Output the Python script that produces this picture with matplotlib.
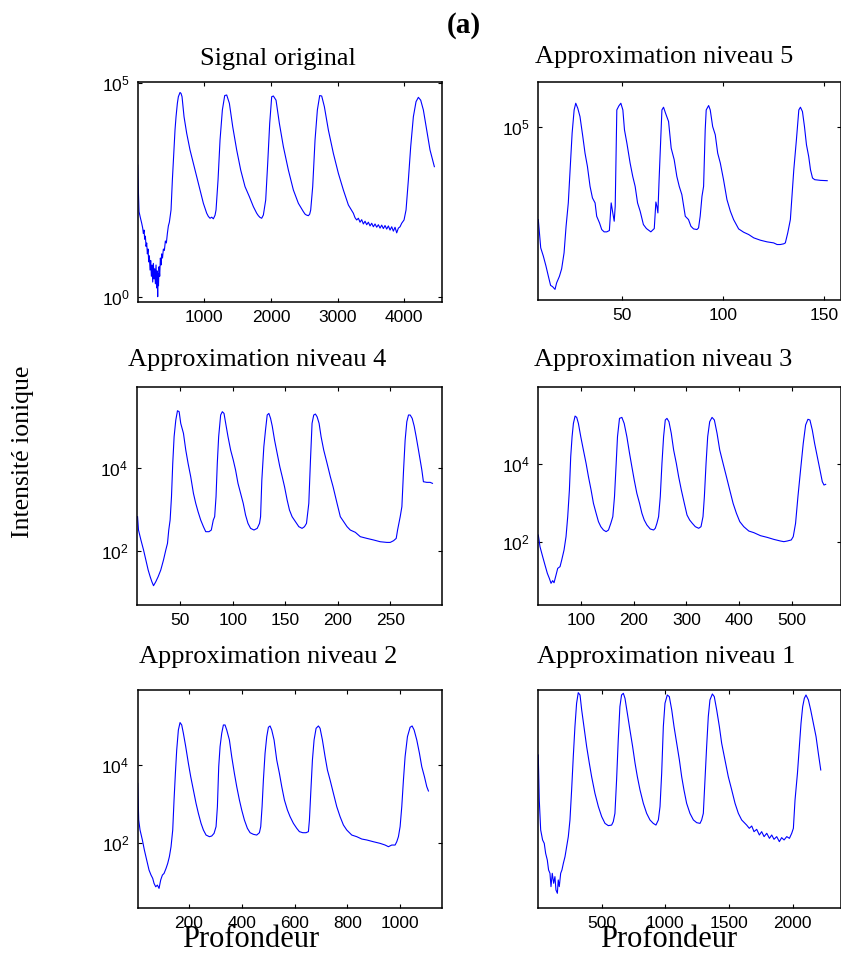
import matplotlib
matplotlib.use('Agg')
import matplotlib.pyplot as plt
from matplotlib.ticker import FixedLocator, NullLocator, FixedFormatter

plt.rcParams['font.family'] = ['Liberation Sans', 'DejaVu Sans']
plt.rcParams['mathtext.fontset'] = 'custom'
plt.rcParams['mathtext.rm'] = 'Liberation Sans'
plt.rcParams['mathtext.it'] = 'Liberation Sans:italic'
plt.rcParams['mathtext.bf'] = 'Liberation Sans:bold'

# ---------------- data: (depth, intensity) ----------------
signal_pts = [
    (0, 1190), (10, 300), (20, 97), (40, 70), (60, 52), (75, 40), (85, 30), (95, 36), (105, 22), (115, 26),
    (125, 15), (135, 18), (145, 10), (155, 13), (165, 6.5), (175, 9), (185, 4.2), (195, 7), (205, 3),
    (215, 5.5), (225, 2.2), (235, 6), (245, 2.6), (255, 4.5), (265, 2.0), (275, 5.5), (285, 1.6), (292, 4),
    (300, 1.0), (305, 3.5), (312, 1.8), (320, 5), (330, 3), (340, 8), (350, 5.5), (360, 10), (372, 8),
    (385, 13), (400, 12), (415, 20), (430, 18), (445, 30), (460, 45), (475, 55), (490, 80), (500, 106),
    (510, 250), (520, 532), (535, 1500), (545, 3200), (560, 8000), (575, 16000), (595, 33000), (610, 47000),
    (635, 59000), (650, 56000), (665, 47000), (695, 16000), (735, 6550), (785, 2670), (835, 1300),
    (885, 637), (935, 311), (985, 152), (1035, 89), (1060, 75), (1085, 68), (1110, 72), (1135, 66),
    (1160, 80), (1175, 106), (1205, 532), (1235, 4570), (1270, 23000), (1305, 50000), (1335, 51500),
    (1375, 33000), (1425, 9400), (1485, 2670), (1545, 910), (1610, 372), (1675, 217), (1735, 127),
    (1785, 89), (1810, 78), (1835, 71), (1860, 68), (1885, 81), (1920, 181), (1950, 1300), (1980, 11200),
    (2010, 47000), (2035, 48800), (2075, 39000), (2125, 11200), (2185, 3200), (2260, 910), (2335, 311),
    (2410, 152), (2485, 97), (2510, 85), (2530, 81), (2560, 78), (2580, 85), (2595, 106), (2625, 372),
    (2660, 4570), (2695, 23000), (2730, 50000), (2760, 48800), (2800, 27500), (2860, 7830), (2935, 2230),
    (3010, 762), (3085, 311), (3160, 139), (3235, 89), (3260, 70), (3285, 62), (3310, 68), (3335, 55),
    (3360, 63), (3385, 50), (3410, 58), (3435, 48), (3460, 55), (3485, 45), (3510, 52), (3535, 43),
    (3560, 50), (3585, 42), (3610, 48), (3635, 40), (3660, 47), (3685, 39), (3710, 46), (3735, 38),
    (3760, 45), (3785, 36), (3810, 43), (3835, 34), (3860, 42), (3885, 31), (3910, 40), (3935, 43),
    (3960, 52), (3995, 62), (4025, 106), (4060, 532), (4095, 3200), (4135, 16000), (4175, 36000),
    (4210, 45400), (4245, 39000), (4285, 23000), (4335, 7830), (4385, 2670), (4450, 1090)]

level5_pts = [
    (8.2, 785), (9.4, 180), (10.7, 117), (12.0, 70), (13.2, 41), (14.3, 25.5), (15.3, 23.8), (16.5, 20.7),
    (17.3, 29), (18.7, 41), (19.8, 60.5), (21.0, 139), (22.0, 555), (23.1, 1870), (24.0, 10500),
    (25.0, 70800), (26.0, 237000), (26.8, 336000), (27.8, 259000), (28.9, 168000), (30.3, 59500),
    (31.4, 25000), (32.6, 12500), (33.9, 4430), (35.1, 2420), (36.4, 1870), (37.2, 933), (38.6, 660),
    (39.7, 467), (40.9, 414), (42.2, 414), (43.5, 443), (44.4, 1870), (45.2, 1110), (45.9, 720),
    (46.4, 1570), (47.2, 237000), (48.2, 292000), (49.2, 336000), (50.2, 237000), (51.0, 84100),
    (52.2, 42100), (53.8, 14900), (55.1, 7450), (56.3, 4430), (57.5, 1870), (58.8, 1210), (60.4, 606),
    (61.9, 492), (64.1, 414), (65.8, 492), (66.6, 1960), (67.1, 1570), (67.6, 1110), (68.2, 6270),
    (69.6, 237000), (70.4, 273000), (71.4, 200000), (72.9, 130000), (74.2, 32400), (75.7, 17700),
    (77.0, 7450), (78.2, 4430), (79.5, 2880), (81.2, 933), (82.8, 785), (84.0, 555), (85.3, 483),
    (87.0, 467), (87.8, 509), (88.6, 933), (89.5, 2640), (90.3, 4430), (91.1, 84100), (91.6, 237000),
    (92.8, 298000), (93.6, 237000), (94.8, 100000), (96.1, 64900), (97.3, 25000), (98.6, 14900),
    (100.2, 6270), (101.9, 2220), (103.6, 1210), (105.2, 785), (107.7, 483), (110.2, 406), (112.7, 360),
    (115.2, 303), (118.5, 268), (121.8, 246), (125.1, 233), (126.8, 214), (128.4, 214), (130.1, 222),
    (130.9, 233), (132.1, 393), (133.4, 785), (135.1, 10500), (136.4, 50000), (137.6, 237000),
    (138.4, 273000), (139.4, 218000), (140.4, 100000), (141.4, 38500), (142.5, 21000), (143.4, 10500),
    (144.4, 6840), (145.5, 6270), (148.3, 6050), (151.7, 5950)]

level4_pts = [
    (9.5, 667), (10.4, 319), (12.7, 184), (15.2, 106), (17.4, 61), (19.6, 35), (21.5, 24.2), (23.1, 18.4),
    (24.7, 14.7), (26.9, 18.4), (29.1, 24.2), (31.6, 35), (34.2, 61), (36.4, 106), (38.0, 153), (39.2, 319),
    (40.5, 555), (41.8, 2010), (43.0, 12700), (44.3, 55500), (45.9, 139000), (47.5, 233000), (49.1, 221000),
    (50.6, 116000), (53.2, 66700), (55.4, 26500), (57.6, 12700), (60.1, 6080), (62.7, 2420), (64.9, 1390),
    (67.1, 879), (69.6, 555), (72.2, 384), (74.4, 291), (77.5, 291), (79.7, 319), (81.6, 555), (82.9, 667),
    (84.2, 2010), (85.4, 12700), (86.7, 55500), (88.6, 184000), (90.2, 221000), (91.8, 201000),
    (93.4, 116000), (95.6, 55500), (98.1, 26500), (100.6, 15300), (102.8, 8790), (105.1, 4210),
    (107.6, 2420), (110.1, 1390), (112.3, 731), (114.6, 461), (117.1, 350), (120.3, 319), (123.4, 350),
    (125.6, 461), (126.6, 667), (127.8, 5060), (129.7, 31900), (131.3, 80200), (132.9, 184000),
    (134.5, 201000), (136.1, 153000), (137.7, 100000), (139.9, 46100), (142.4, 22100), (144.9, 10600),
    (147.2, 6080), (149.4, 3500), (151.9, 1670), (154.1, 964), (156.6, 667), (159.8, 506), (163.0, 384),
    (166.1, 350), (168.4, 384), (170.3, 461), (172.5, 1390), (174.1, 15300), (175.6, 116000),
    (177.2, 184000), (178.8, 194000), (180.4, 167000), (182.3, 116000), (184.2, 55500), (186.7, 26500),
    (189.9, 12700), (193.0, 6080), (195.6, 3500), (199.4, 1390), (202.5, 667), (205.7, 506), (208.9, 384),
    (212.0, 319), (216.8, 281), (221.5, 221), (227.8, 201), (234.2, 184), (240.5, 167), (246.8, 161),
    (250.0, 161), (253.2, 177), (255.7, 201), (257.0, 319), (259.5, 667), (261.1, 1160), (262.7, 8790),
    (264.2, 46100), (265.8, 127000), (267.4, 184000), (269.0, 184000), (270.9, 153000), (272.8, 100000),
    (274.7, 55500), (276.9, 26500), (278.5, 15300), (280.1, 8790), (281.6, 4610), (284.8, 4450),
    (288.0, 4450), (290.2, 4210)]

level3_pts = [
    (18.7, 154), (21.9, 77.5), (27.0, 42.9), (31.4, 26.2), (35.9, 16.0), (39.7, 11.9), (42.9, 8.9),
    (46.0, 10.4), (48.6, 9.2), (52.4, 14.5), (55.6, 21.5), (60.0, 23.8), (63.2, 35.2), (67.6, 63.5),
    (71.4, 140), (74.6, 455), (77.8, 2200), (80.3, 15700), (82.9, 51200), (85.4, 112000), (88.6, 173000),
    (91.7, 160000), (94.9, 112000), (99.4, 51200), (104.4, 23300), (109.5, 10600), (114.0, 4830),
    (119.0, 2200), (123.5, 1000), (128.6, 555), (133.0, 339), (137.5, 252), (142.5, 207), (147.6, 188),
    (152.1, 207), (156.5, 307), (160.3, 455), (163.5, 1480), (166.7, 10600), (169.2, 51200),
    (173.0, 151000), (177.5, 160000), (181.9, 112000), (187.0, 51200), (192.1, 19100), (196.5, 8710),
    (201.0, 3960), (206.0, 1800), (211.1, 1000), (215.6, 555), (220.0, 374), (225.1, 278), (231.4, 220),
    (237.8, 207), (241.0, 229), (244.1, 307), (247.3, 455), (250.5, 1480), (253.7, 10600), (256.8, 51200),
    (260.0, 137000), (263.2, 151000), (267.0, 124000), (271.4, 62400), (275.9, 23300), (281.0, 10600),
    (285.4, 4830), (290.5, 2200), (296.2, 1000), (301.3, 502), (306.3, 374), (311.4, 307), (317.1, 252),
    (323.5, 229), (327.9, 252), (331.7, 455), (334.3, 1480), (337.5, 10600), (340.6, 51200),
    (344.4, 124000), (348.9, 160000), (353.3, 137000), (358.4, 62400), (363.5, 23300), (369.8, 10600),
    (376.2, 4830), (382.5, 2200), (388.9, 1000), (395.2, 555), (401.6, 339), (409.2, 252), (418.7, 195),
    (428.3, 177), (441.0, 148), (453.7, 134), (466.3, 119), (479.0, 108), (485.4, 104), (491.7, 108),
    (499.4, 115), (503.2, 140), (507.6, 307), (512.1, 1480), (517.1, 7160), (522.2, 34500),
    (526.7, 102000), (531.1, 143000), (534.9, 137000), (539.4, 75900), (543.8, 34500), (548.9, 15700),
    (554.0, 7160), (558.4, 3600), (561.6, 2950), (564.8, 3070)]

level2_pts = [
    (5.3, 3400), (9.1, 394), (14.2, 219), (23.0, 122), (30.6, 67.6), (39.4, 37.5), (48.3, 20.8),
    (55.9, 15.5), (62.2, 12.8), (67.3, 9.5), (73.6, 7.8), (79.9, 8.6), (86.2, 7.1), (92.5, 11.6),
    (98.9, 15.5), (105.2, 17.1), (112.8, 23.0), (119.1, 30.8), (125.4, 45.7), (131.7, 82.2), (138.1, 219),
    (143.1, 1280), (148.2, 6120), (153.2, 24100), (159.5, 78300), (165.9, 121000), (172.2, 105000),
    (178.5, 64400), (187.4, 29400), (197.5, 11000), (206.3, 5040), (216.4, 2300), (226.5, 1050),
    (235.4, 583), (245.5, 324), (254.4, 219), (264.5, 163), (277.1, 148), (286.0, 154), (294.8, 180),
    (302.4, 267), (307.5, 863), (312.5, 9060), (317.6, 29400), (323.9, 64400), (330.2, 105000),
    (336.5, 105000), (342.9, 78300), (353.0, 43500), (361.8, 16300), (371.9, 6120), (380.8, 2800),
    (390.9, 1280), (399.7, 710), (409.9, 394), (421.2, 242), (431.4, 187), (444.0, 170), (456.6, 163),
    (466.8, 187), (471.8, 267), (476.9, 863), (481.9, 4140), (488.2, 19900), (494.6, 52800),
    (500.9, 91600), (507.2, 99100), (513.5, 78300), (522.4, 43500), (532.5, 13400), (542.6, 6120),
    (551.5, 2800), (561.6, 1280), (573.0, 710), (583.1, 480), (595.7, 324), (608.3, 242), (618.5, 199),
    (631.1, 187), (643.7, 187), (652.6, 199), (656.4, 394), (661.4, 1890), (667.8, 13400), (674.1, 43500),
    (681.7, 86300), (690.5, 99100), (696.8, 86300), (705.7, 43500), (715.8, 16300), (724.7, 7450),
    (734.8, 4140), (747.4, 1890), (760.1, 863), (772.7, 480), (785.3, 294), (798.0, 219), (817.0, 163),
    (835.9, 148), (854.9, 129), (873.8, 122), (899.1, 110), (924.4, 100), (943.4, 90.6), (956.0, 82.2),
    (968.6, 90.6), (981.3, 90.6), (987.6, 110), (993.9, 148), (1000.3, 267), (1006.6, 863),
    (1012.9, 4140), (1019.2, 16300), (1028.1, 52800), (1038.2, 91600), (1045.8, 99100), (1053.4, 78300),
    (1063.5, 43500), (1073.6, 19900), (1082.4, 9060), (1092.5, 5040), (1101.4, 2800), (1107.7, 2170)]

level1_pts = [
    (2, 3490), (10, 361), (21, 79.6), (36, 48.1), (49, 40.6), (60, 24.5), (73, 17.5), (83, 10.6), (94, 8.95),
    (102, 4.57), (112, 8.95), (123, 5.41), (133, 7.57), (141, 3.86), (152, 3.27), (159, 6.40), (167, 4.57),
    (178, 8.95), (188, 10.6), (199, 14.8), (212, 20.7), (225, 34.3), (238, 56.9), (251, 132), (264, 598),
    (277, 3210), (290, 14600), (303, 47300), (316, 80900), (330, 71900), (343, 33800), (361, 14600),
    (382, 5320), (403, 2300), (421, 1170), (447, 506), (474, 258), (500, 156), (526, 111), (552, 99),
    (578, 102), (591, 121), (604, 184), (617, 991), (630, 7450), (643, 40000), (656, 71900), (670, 78300),
    (683, 60800), (701, 28600), (722, 12300), (743, 5320), (762, 2300), (780, 1170), (801, 598), (827, 305),
    (853, 184), (879, 132), (905, 111), (926, 102), (945, 132), (958, 258), (971, 1390), (984, 14600),
    (997, 47300), (1015, 71900), (1031, 66200), (1050, 33800), (1068, 14600), (1089, 6300), (1110, 2720),
    (1128, 1170), (1146, 598), (1167, 305), (1193, 184), (1220, 132), (1246, 115), (1272, 111), (1285, 132),
    (1298, 184), (1311, 991), (1324, 5320), (1337, 24200), (1350, 56000), (1369, 75700), (1384, 66200),
    (1403, 33800), (1424, 14600), (1442, 6300), (1468, 2720), (1494, 1170), (1521, 598), (1547, 305),
    (1573, 184), (1599, 132), (1638, 102), (1659, 86.5), (1678, 97.3), (1696, 73.1), (1717, 82.2),
    (1738, 61.8), (1756, 73.1), (1775, 56.9), (1796, 67.3), (1817, 52.2), (1835, 61.8), (1853, 49.7),
    (1874, 56.9), (1895, 44.2), (1913, 54.1), (1932, 48.1), (1953, 56.9), (1974, 52.2), (1992, 67.3),
    (2005, 86.5), (2018, 361), (2037, 1390), (2052, 5320), (2065, 17300), (2078, 40000), (2091, 60800),
    (2104, 71900), (2123, 56000), (2141, 33800), (2162, 17300), (2183, 8810), (2201, 3800), (2220, 1640)]

titles = ['Signal original', 'Approximation niveau 5', 'Approximation niveau 4',
          'Approximation niveau 3', 'Approximation niveau 2', 'Approximation niveau 1']
xticks_list = [[1000, 2000, 3000, 4000], [50, 100, 150], [50, 100, 150, 200, 250],
               [100, 200, 300, 400, 500], [200, 400, 600, 800, 1000], [500, 1000, 1500, 2000]]
yticks_list = [[1, 1e5], [1e5], [1e2, 1e4], [1e2, 1e4], [1e2, 1e4], []]
ytick_labels = [['$10^{0}$', '$10^{5}$'], ['$10^{5}$'], ['$10^{2}$', '$10^{4}$'],
                ['$10^{2}$', '$10^{4}$'], ['$10^{2}$', '$10^{4}$'], []]
series = [signal_pts, level5_pts, level4_pts, level3_pts, level2_pts, level1_pts]

# ---------------- layout ----------------
W, H = 841, 955
fig = plt.figure(figsize=(W / 100, H / 100), dpi=100)

# pixel boxes (left, top, right, bottom)
boxes = [(137.7, 82.3, 441.7, 301.7), (538.3, 82.3, 840.5, 300.0),
         (136.5, 386.7, 441.7, 605.0), (538.3, 386.7, 840.5, 605.0),
         (137.7, 690.0, 441.7, 907.7), (538.0, 690.0, 840.5, 907.7)]
xlims = [(0, 4560), (8.2, 158.3), (8.5, 299), (18.7, 593), (5.3, 1158), (0, 2375)]
ylims = [(0.764, 1.02e5), (11.9, 1.0e6), (5.06, 8.8e5), (2.47, 9.8e5), (2.28, 8.2e5), (1.58, 9.25e4)]
# title centre x and baseline y (pixels)
title_pos = [(277.5, 65), (664, 63.5), (257.5, 366), (663.3, 366), (268.3, 663), (666.3, 663)]

for i in range(6):
    l, t, r, b = boxes[i]
    ax = fig.add_axes([l / W, 1 - b / H, (r - l) / W, (b - t) / H])
    xs = [p[0] for p in series[i]]
    ys = [p[1] for p in series[i]]
    ax.plot(xs, ys, color=(0, 0, 1), lw=0.8)
    ax.set_yscale('log')
    ax.set_xlim(*xlims[i])
    ax.set_ylim(*ylims[i])
    ax.xaxis.set_major_locator(FixedLocator(xticks_list[i]))
    ax.xaxis.set_minor_locator(NullLocator())
    ax.yaxis.set_major_locator(FixedLocator(yticks_list[i]))
    ax.yaxis.set_major_formatter(FixedFormatter(ytick_labels[i]))
    ax.yaxis.set_minor_locator(NullLocator())
    ax.tick_params(which='both', direction='in', top=True, right=True, length=3, width=0.8,
                   labelsize=12.5, colors='black', pad=6)
    for sp in ax.spines.values():
        sp.set_linewidth(1.1)
        sp.set_color('black')
    tx, ty = title_pos[i]
    fig.text(tx / W, 1 - ty / H, titles[i], ha='center', va='baseline',
             family='Liberation Serif', fontsize=19)

fig.text(464 / W, 1 - 33 / H, '(a)', ha='center', va='baseline', family='Liberation Serif',
         fontsize=21, fontweight='bold')
fig.text(23 / W, 1 - 452 / H, 'Intensité ionique', rotation=90, ha='center', va='center',
         family='Liberation Serif', fontsize=18.5)
fig.text(250.8 / W, 1 - 947 / H, 'Profondeur', ha='center', va='baseline',
         family='Liberation Serif', fontsize=22)
fig.text(669 / W, 1 - 947 / H, 'Profondeur', ha='center', va='baseline',
         family='Liberation Serif', fontsize=22)

fig.savefig('out.png', dpi=100)
